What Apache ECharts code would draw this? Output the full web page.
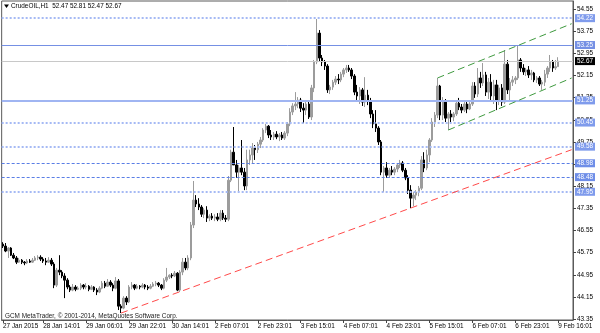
<!DOCTYPE html>
<html><head><meta charset="utf-8">
<script src="https://cdn.jsdelivr.net/npm/echarts@6.0.0/dist/echarts.min.js"></script>
<style>html,body{margin:0;padding:0;background:#fff}#chart{width:600px;height:333px}</style>
</head><body><div id="chart"></div>
<script>
const symbolName = 'CrudeOIL,H1';
// [open, high, low, close]
const bars = [
[46.06,46.13,45.92,45.99], // 0
[45.99,46.10,45.77,45.81],
[45.81,45.95,45.56,45.92],
[45.92,45.95,45.63,45.66],
[45.66,45.74,45.52,45.56],
[45.56,45.63,45.34,45.41],
[45.41,45.56,45.38,45.48],
[45.48,45.52,45.34,45.41],
[45.41,45.45,45.30,45.38],
[45.38,45.52,45.34,45.45],
[45.45,45.52,45.38,45.41], // 10
[45.41,45.56,45.38,45.48],
[45.48,45.63,45.45,45.56],
[45.56,45.66,45.48,45.59],
[45.59,45.66,45.45,45.52],
[45.52,45.59,45.38,45.45],
[45.45,45.56,45.30,45.41],
[45.41,45.59,45.38,45.48],
[45.48,45.56,45.27,45.34],
[45.34,45.41,44.47,44.58],
[44.58,45.20,44.51,45.12], // 20
[45.12,45.66,44.94,45.05],
[45.05,45.12,44.83,44.91],
[44.91,45.01,44.11,44.76],
[44.76,44.83,44.43,44.51],
[44.51,44.58,44.33,44.40],
[44.40,44.62,44.36,44.51],
[44.51,44.58,44.36,44.43],
[44.43,44.54,44.40,44.47],
[44.47,44.65,44.40,44.58],
[44.58,44.62,44.43,44.51], // 30
[44.51,44.65,44.43,44.54],
[44.54,44.58,44.36,44.43],
[44.43,44.58,44.40,44.51],
[44.51,44.54,44.33,44.40],
[44.40,44.47,44.22,44.33],
[44.33,44.54,44.29,44.47],
[44.47,44.73,44.43,44.65],
[44.65,44.73,44.47,44.54],
[44.54,44.80,44.51,44.69],
[44.69,44.76,44.51,44.58], // 40
[44.58,44.65,44.36,44.47],
[44.47,44.87,44.43,44.73],
[44.73,44.80,43.68,43.82],
[43.82,43.89,43.57,43.75],
[43.75,44.18,43.71,44.11],
[44.11,44.18,43.86,43.97],
[43.97,44.58,43.93,44.51],
[44.51,44.69,44.43,44.58],
[44.58,44.62,44.40,44.47],
[44.47,44.62,44.43,44.54], // 50
[44.54,44.58,44.43,44.51],
[44.51,44.65,44.47,44.58],
[44.58,44.62,44.43,44.51],
[44.51,44.58,44.40,44.47],
[44.47,44.62,44.43,44.54],
[44.54,44.69,44.51,44.62],
[44.62,44.73,44.54,44.65],
[44.65,44.69,44.51,44.58],
[44.58,44.62,44.40,44.47],
[44.47,44.83,44.43,44.76], // 60
[44.76,45.20,44.69,44.87],
[44.87,44.97,44.80,44.94],
[44.94,45.01,44.83,44.91],
[44.91,45.09,44.87,45.01],
[45.01,45.05,44.36,44.40],
[44.40,45.12,44.33,45.05],
[45.05,45.56,44.94,45.41],
[45.41,45.56,45.12,45.20],
[45.20,45.66,45.12,45.56],
[45.56,46.86,45.48,46.75], // 70
[46.75,48.34,46.64,47.65],
[47.65,47.83,47.40,47.51],
[47.51,47.72,47.29,47.40],
[47.40,47.47,47.04,47.14],
[47.14,47.36,47.00,47.29],
[47.29,47.43,46.86,47.00],
[47.00,47.14,46.89,47.07],
[47.07,47.18,46.93,47.00],
[47.00,47.14,46.89,47.04],
[47.04,47.18,46.89,46.96], // 80
[46.96,47.29,46.89,47.18],
[47.18,47.29,46.93,47.00],
[47.00,47.11,46.86,46.96],
[46.96,48.52,46.89,48.37],
[48.37,49.47,48.30,49.38],
[49.38,50.29,49.10,48.92],
[48.92,49.10,48.45,48.66],
[48.66,48.92,47.94,48.81],
[48.81,49.82,48.55,48.66],
[48.66,48.81,48.01,48.16], // 90
[48.16,49.47,48.01,49.10],
[49.10,49.47,48.92,49.28],
[49.28,49.71,48.99,49.53],
[49.53,49.64,49.10,49.47],
[49.47,49.75,49.35,49.67],
[49.67,49.93,49.53,49.82],
[49.82,50.25,49.75,50.18],
[50.18,50.40,50.07,50.32],
[50.32,50.36,49.89,50.00],
[50.00,50.18,49.82,49.93], // 100
[49.93,50.11,49.82,50.03],
[50.03,50.14,49.85,49.93],
[49.93,50.07,49.78,50.00],
[50.00,50.11,49.82,49.89],
[49.89,50.14,49.82,50.07],
[50.07,50.47,49.96,50.40],
[50.40,50.97,50.32,50.83],
[50.83,51.15,50.72,51.05],
[51.05,51.55,50.90,51.12],
[51.12,51.37,50.97,51.26], // 110
[51.26,51.34,50.83,50.97],
[50.97,51.15,50.43,50.90],
[50.90,51.26,50.72,51.12],
[51.12,51.26,50.58,50.65],
[50.65,51.81,50.54,51.70],
[51.70,52.71,51.55,52.64],
[52.64,54.19,52.56,53.68],
[53.68,53.79,52.64,52.78],
[52.78,52.89,52.49,52.64],
[52.64,52.71,52.35,52.49], // 120
[52.49,52.56,51.52,51.63],
[51.63,51.81,51.48,51.73],
[51.73,51.99,51.63,51.91],
[51.91,52.13,51.81,52.02],
[52.02,52.20,51.84,51.99],
[51.99,52.28,51.91,52.20],
[52.20,52.42,52.09,52.35],
[52.35,52.53,52.24,52.42],
[52.42,52.53,52.28,52.35],
[52.35,52.42,52.02,52.13], // 130
[52.13,52.20,51.44,51.55],
[51.55,51.81,51.26,51.41],
[51.41,51.73,51.12,51.63],
[51.63,51.70,51.05,51.19],
[51.19,52.09,51.01,51.44],
[51.44,51.63,51.08,51.23],
[51.23,51.34,50.61,50.76],
[50.76,50.90,50.25,50.40],
[50.40,50.90,50.11,50.25],
[50.25,50.32,49.64,49.75], // 140
[49.75,49.82,48.55,48.66],
[48.66,48.88,47.94,48.81],
[48.81,49.02,48.45,48.55],
[48.55,48.81,48.45,48.73],
[48.73,48.88,48.55,48.66],
[48.66,48.84,48.55,48.77],
[48.77,48.99,48.66,48.92],
[48.92,49.10,48.81,48.99],
[48.99,49.06,48.66,48.73],
[48.73,48.81,48.37,48.45], // 150
[48.45,48.55,47.87,48.01],
[48.01,48.19,47.36,47.72],
[47.72,47.94,47.43,47.83],
[47.83,48.01,47.65,47.94],
[47.94,48.16,47.79,48.08],
[48.08,49.24,48.01,49.10],
[49.10,49.38,48.66,48.81],
[48.81,49.47,48.73,49.28],
[49.28,49.89,49.02,49.82],
[49.82,50.61,49.75,50.47], // 160
[50.47,50.83,50.29,50.72],
[50.72,52.06,50.61,51.77],
[51.77,51.81,50.54,50.72],
[50.72,51.37,50.54,51.19],
[51.19,51.30,50.47,50.61],
[50.61,50.83,50.18,50.76],
[50.76,50.90,50.47,50.65],
[50.65,50.83,50.50,50.76],
[50.76,51.26,50.69,51.15],
[51.15,51.34,50.90,51.01], // 170
[51.01,51.12,50.79,50.90],
[50.90,51.19,50.83,51.12],
[51.12,51.26,50.79,50.94],
[50.94,51.19,50.90,51.12],
[51.12,51.91,51.05,51.77],
[51.77,51.91,51.34,51.48],
[51.48,52.42,51.37,52.06],
[52.06,52.28,51.70,51.88],
[51.88,52.60,51.77,52.17],
[52.17,52.28,51.41,51.55], // 180
[51.55,52.06,51.30,51.91],
[51.91,52.20,51.26,51.41],
[51.41,51.99,51.12,51.81],
[51.81,51.99,50.90,51.26],
[51.26,51.81,51.08,51.70],
[51.70,51.84,51.05,51.19],
[51.19,53.07,51.12,52.56],
[52.56,52.71,51.48,51.63],
[51.63,52.06,51.26,51.91],
[51.91,52.13,51.77,51.99], // 190
[51.99,52.13,51.84,52.06],
[52.06,53.25,51.99,52.71],
[52.71,52.78,52.28,52.42],
[52.42,52.56,52.17,52.28],
[52.28,52.42,52.13,52.35],
[52.35,52.49,52.06,52.17],
[52.17,52.35,51.99,52.24],
[52.24,52.28,51.91,51.99],
[51.99,52.13,51.88,52.06],
[52.06,52.13,51.77,51.84], // 200
[51.84,51.99,51.63,51.91],
[51.91,52.35,51.77,52.20],
[52.20,52.49,52.06,52.42],
[52.42,52.89,52.28,52.64],
[52.64,52.71,52.28,52.42],
[52.42,52.71,52.35,52.47],
[52.47,52.81,52.47,52.67]  // 207
];
const xTickBars = [0, 15, 31, 47, 63, 79, 95, 111, 127, 143, 159, 175, 191, 207];
const xTickLabels = ['27 Jan 2015','28 Jan 14:01','29 Jan 06:01','29 Jan 22:01','30 Jan 14:01','2 Feb 07:01','2 Feb 23:01','3 Feb 15:01','4 Feb 07:01','4 Feb 23:01','5 Feb 15:01','6 Feb 07:01','6 Feb 23:01','9 Feb 16:01'];
const priceTicks = [43.35,44.15,44.95,45.75,46.55,47.35,48.15,48.95,49.75,50.55,51.35,52.15,52.95,53.75,54.55];
const dottedLevels = [54.22, 50.45, 49.58, 47.95];
const dashedLevels = [48.98, 48.48];
const solidLevels = [53.25];
const thickLevels = [51.25];
const bidLevel = 52.67;
const supportLine = [[44, 43.57], [212, 49.47]];
const channelUpper = [[162, 52.06], [212, 54.02]];
const channelLower = [[166, 50.18], [212, 52.06]];
const slotCount = 213;
const priceMin = 43.32, priceMax = 54.84;
const copyright = 'GCM MetaTrader, \u00a9 2001-2014, MetaQuotes Software Corp.';

const FONT = '"Liberation Sans", Arial, sans-serif';
const FS = 6.4;
const categories = [];
for (let i = 0; i < slotCount; i++) categories.push(String(i));
const labelMap = {};
xTickBars.forEach((b, k) => { labelMap[b] = xTickLabels[k]; });
const isTick = (i) => labelMap[i] !== undefined;

const candleData = bars.map(b => [b[0], b[3], b[2], b[1]]);

function lvlLabel(bg, fg) {
  return { show: true, position: 'end', distance: 2, formatter: p => Number(p.value).toFixed(2),
    backgroundColor: bg, color: fg, padding: [1, 2, 0, 2], fontSize: FS, fontFamily: FONT, lineHeight: 7 };
}
const ml = [];
dottedLevels.forEach(v => ml.push({ yAxis: v, lineStyle: { color: '#a6baf4', width: 2, type: [2, 2] }, label: lvlLabel('#7f9bec', '#ffffff') }));
dashedLevels.forEach(v => ml.push({ yAxis: v, lineStyle: { color: '#5a7ee6', width: 1, type: [3, 2] }, label: lvlLabel('#6f8ee8', '#ffffff') }));
solidLevels.forEach(v => ml.push({ yAxis: v, lineStyle: { color: '#7590e4', width: 1, type: 'solid' }, label: lvlLabel('#7590e4', '#ffffff') }));
thickLevels.forEach(v => ml.push({ yAxis: v, lineStyle: { color: '#a0b5f2', width: 2, type: 'solid' }, label: lvlLabel('#7f9bec', '#ffffff') }));
ml.push({ yAxis: bidLevel, lineStyle: { color: '#c8c8c8', width: 1, type: 'solid' }, label: lvlLabel('#000000', '#ffffff') });
function seg(pts, color) {
  return [
    { coord: [pts[0][0], pts[0][1]], lineStyle: { color: color, width: 1, type: [7, 4] }, label: { show: false } },
    { coord: [pts[1][0], pts[1][1]] }
  ];
}
ml.push(seg(supportLine, '#ff4a4a'));
ml.push(seg(channelUpper, '#3f9a3f'));
ml.push(seg(channelLower, '#3f9a3f'));

const chart = echarts.init(document.getElementById('chart'), null, { renderer: 'canvas' });
const last = bars[bars.length - 1];
chart.setOption({
  animation: false,
  backgroundColor: '#ffffff',
  textStyle: { fontFamily: FONT },
  grid: { left: 1.5, right: 27, top: 1, bottom: 13, show: true, borderColor: '#5a5a5a', borderWidth: 1 },
  xAxis: {
    type: 'category', data: categories, boundaryGap: true,
    axisLine: { show: true, lineStyle: { color: '#5a5a5a' } },
    axisTick: { show: true, alignWithLabel: true, length: 3, interval: (i) => isTick(i), lineStyle: { color: '#444' } },
    axisLabel: { interval: (i) => isTick(i), formatter: (v, i) => labelMap[i] || '', align: 'left', margin: 3,
      fontSize: FS, color: '#000', fontFamily: FONT },
    splitLine: { show: false }
  },
  yAxis: {
    type: 'value', position: 'right', min: priceMin, max: priceMax,
    axisLine: { show: true, lineStyle: { color: '#5a5a5a' } },
    axisTick: { show: true, length: 3, customValues: priceTicks, lineStyle: { color: '#444' } },
    axisLabel: { customValues: priceTicks, formatter: v => Number(v).toFixed(2), margin: 4, fontSize: FS, color: '#000', fontFamily: FONT },
    splitLine: { show: false }
  },
  graphic: [
    { type: 'polygon', shape: { points: [[4, 4.5], [9, 4.5], [6.5, 8]] }, style: { fill: '#000' } },
    { type: 'text', left: 11, top: 3, style: { text: symbolName + '  ' + last.map(v => v.toFixed(2)).join(' '), font: FS + 'px ' + FONT, fill: '#000' } },
    { type: 'text', left: 5, top: 313, style: { text: copyright, font: FS + 'px ' + FONT, fill: '#222' } }
  ],
  series: [{
    type: 'candlestick', data: candleData, barWidth: 2,
    itemStyle: { color: '#9c9c9c', color0: '#000000', borderColor: '#9c9c9c', borderColor0: '#000000', borderWidth: 1 },
    emphasis: { disabled: true },
    markLine: { silent: true, symbol: ['none', 'none'], animation: false, data: ml }
  }]
});
</script></body></html>
